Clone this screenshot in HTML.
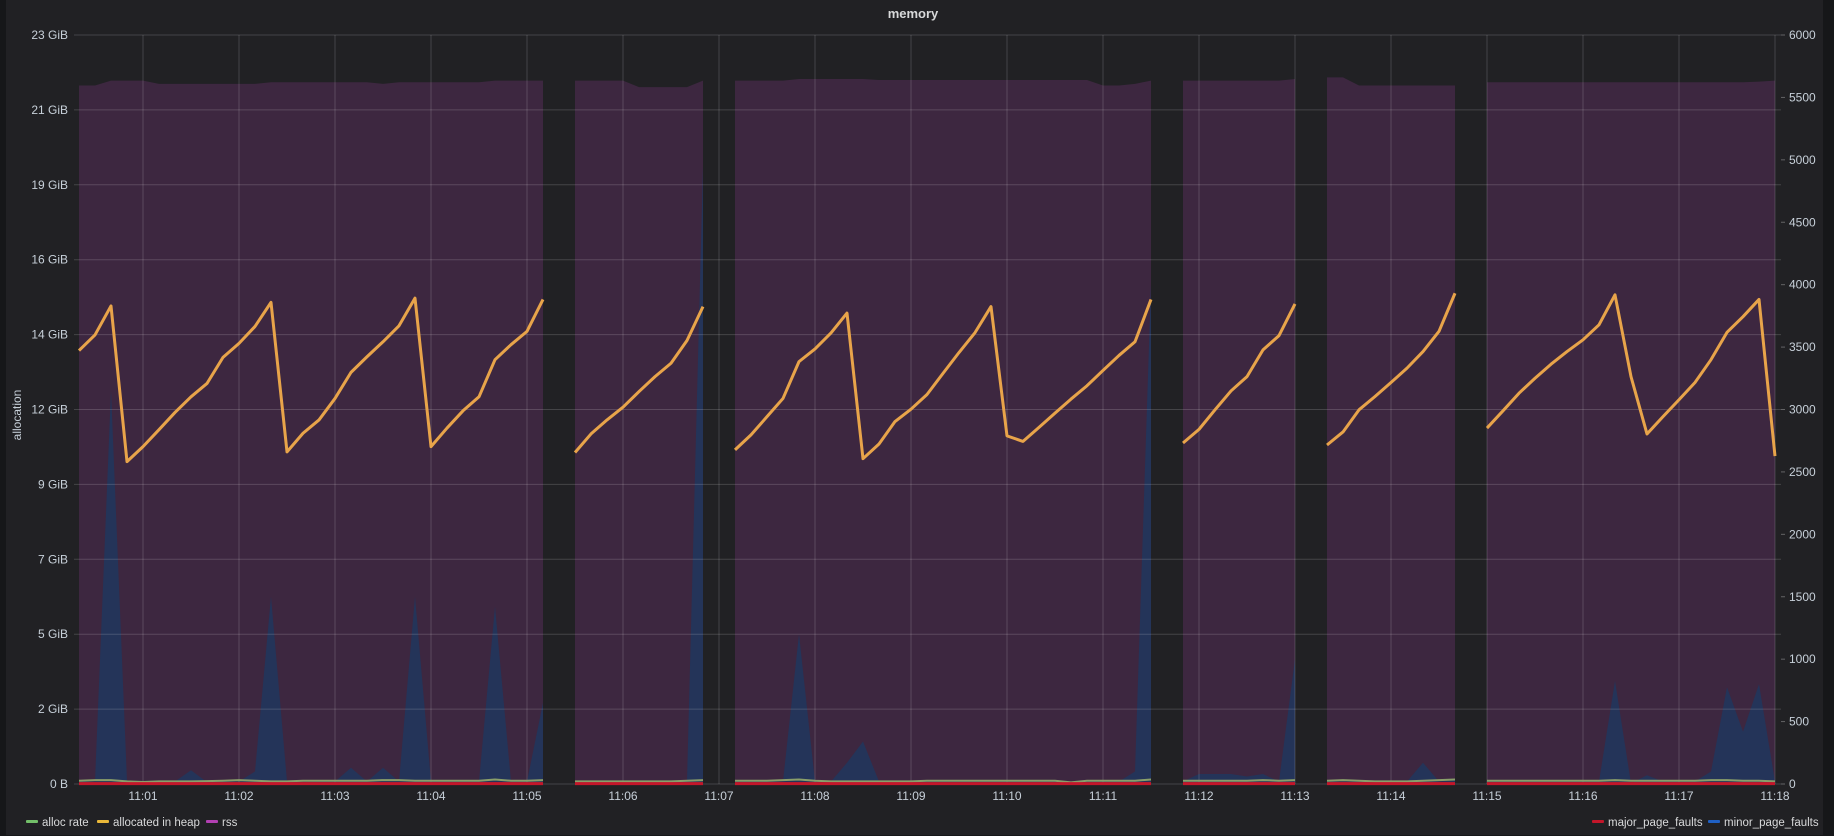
<!DOCTYPE html>
<html><head><meta charset="utf-8"><style>
html,body{margin:0;padding:0;background:#161719;}
#panel{position:absolute;left:6px;top:0;width:1817px;height:835px;background:#212124;}
svg{position:absolute;left:0;top:0;}
text{font-family:"Liberation Sans",sans-serif;}
</style></head><body>
<div id="panel"></div>
<svg id="chart" width="1834" height="836"></svg>
<script>
const times=[20,30,40,50,60,70,80,90,100,110,120,130,140,150,160,170,180,190,200,210,220,230,240,250,260,270,280,290,300,310,
330,340,350,360,370,380,390,400,410,
430,440,450,460,470,480,490,500,510,520,530,540,550,560,570,580,590,600,610,620,630,640,650,660,670,680,690,
710,720,730,740,750,760,770,780,
800,810,820,830,840,850,860,870,880,
900,910,920,930,940,950,960,970,980,990,1000,1010,1020,1030,1040,1050,1060,1070,1080];
const heapGiB=[13.31,13.79,14.68,9.90,10.36,10.88,11.41,11.89,12.30,13.10,13.53,14.05,14.79,10.20,10.77,11.18,11.84,12.64,13.12,13.58,14.07,14.92,10.36,10.93,11.46,11.89,13.03,13.49,13.90,14.88,
10.18,10.75,11.18,11.57,12.05,12.51,12.92,13.62,14.66,
10.26,10.72,11.28,11.84,12.97,13.36,13.85,14.46,9.99,10.44,11.13,11.51,11.96,12.61,13.25,13.86,14.66,10.69,10.52,10.95,11.39,11.82,12.23,12.70,13.16,13.58,14.88,
10.47,10.89,11.49,12.07,12.51,13.33,13.77,14.74,
10.41,10.81,11.49,11.90,12.33,12.77,13.28,13.90,15.07,
10.93,11.46,12.00,12.46,12.89,13.28,13.64,14.10,15.02,12.51,10.75,11.28,11.80,12.33,13.03,13.87,14.35,14.88,10.07];
const rssGiB=[21.45,21.45,21.6,21.6,21.6,21.5,21.5,21.5,21.5,21.5,21.5,21.5,21.55,21.55,21.55,21.55,21.55,21.55,21.55,21.5,21.55,21.55,21.55,21.55,21.55,21.55,21.6,21.6,21.6,21.6,
21.6,21.6,21.6,21.6,21.4,21.4,21.4,21.4,21.6,
21.6,21.6,21.6,21.6,21.65,21.65,21.65,21.65,21.65,21.62,21.62,21.62,21.62,21.62,21.62,21.62,21.62,21.62,21.62,21.62,21.62,21.62,21.62,21.45,21.45,21.5,21.6,
21.6,21.6,21.6,21.6,21.6,21.6,21.6,21.65,
21.7,21.7,21.45,21.45,21.45,21.45,21.45,21.45,21.45,
21.55,21.55,21.55,21.55,21.55,21.55,21.55,21.55,21.55,21.55,21.55,21.55,21.55,21.55,21.55,21.55,21.55,21.57,21.6];
const minorFaults=[20,20,3150,20,10,15,20,110,15,20,20,100,1500,20,15,20,20,130,20,130,20,1500,20,20,20,20,1420,20,20,650,
20,20,20,15,15,20,20,20,4950,
20,20,20,20,1200,20,20,170,340,20,20,20,20,20,20,20,20,20,20,20,20,20,20,20,20,100,4000,
20,80,80,80,60,80,20,1000,
20,20,20,20,20,20,170,20,30,
20,20,20,20,20,20,20,20,825,5,70,20,20,20,100,775,420,800,20];
const majorFaults=[3,3,3,3,3,3,3,3,3,3,3,3,3,3,3,3,3,3,3,3,3,3,3,3,3,3,3,3,3,3,
3,3,3,3,3,3,3,3,3,
3,3,3,3,3,3,3,3,3,3,3,3,3,3,3,3,3,3,3,3,3,3,3,3,3,3,3,
3,3,3,3,3,3,3,3,
3,3,3,3,3,3,3,3,3,
3,3,3,3,3,3,3,3,3,3,3,3,3,3,3,3,3,3,3];
const allocGiB=[0.1,0.12,0.12,0.08,0.06,0.08,0.08,0.08,0.09,0.1,0.12,0.1,0.08,0.08,0.1,0.1,0.1,0.1,0.1,0.12,0.12,0.1,0.1,0.1,0.1,0.1,0.14,0.1,0.1,0.12,
0.08,0.08,0.08,0.08,0.08,0.08,0.08,0.1,0.12,
0.1,0.1,0.1,0.12,0.14,0.1,0.08,0.08,0.08,0.08,0.08,0.08,0.1,0.1,0.1,0.1,0.1,0.1,0.1,0.1,0.1,0.05,0.1,0.1,0.1,0.1,0.14,
0.1,0.1,0.1,0.1,0.1,0.12,0.1,0.12,
0.1,0.12,0.1,0.08,0.08,0.08,0.1,0.12,0.14,
0.1,0.1,0.1,0.1,0.1,0.1,0.1,0.1,0.12,0.1,0.1,0.1,0.1,0.1,0.12,0.12,0.1,0.1,0.08];
const leftTickLabels=["0 B","2 GiB","5 GiB","7 GiB","9 GiB","12 GiB","14 GiB","16 GiB","19 GiB","21 GiB","23 GiB"];
const leftTickValues=[0,2.3,4.6,6.9,9.2,11.5,13.8,16.1,18.4,20.7,23];
const rightTickValues=[0,500,1000,1500,2000,2500,3000,3500,4000,4500,5000,5500,6000];
const xTickLabels=["11:01","11:02","11:03","11:04","11:05","11:06","11:07","11:08","11:09","11:10","11:11","11:12","11:13","11:14","11:15","11:16","11:17","11:18"];
const xTickSeconds=[60,120,180,240,300,360,420,480,540,600,660,720,780,840,900,960,1020,1080];

const NS="http://www.w3.org/2000/svg";
const svg=document.getElementById('chart');
const PL=74,PR=1781,PT=35,PB=784;
const xS=t=>47+t*96/60;
const yL=g=>PB-g*(PB-PT)/23;
const yR=v=>PB-v*(PB-PT)/6000;
function el(tag,attrs,parent){const e=document.createElementNS(NS,tag);for(const k in attrs)e.setAttribute(k,attrs[k]);(parent||svg).appendChild(e);return e;}
const segs=[];let cur=[0];
for(let i=1;i<times.length;i++){if(times[i]-times[i-1]>15){segs.push(cur);cur=[i];}else cur.push(i);}
segs.push(cur);
function areaPath(idx,vals,ys){let d='M'+xS(times[idx[0]])+','+PB;idx.forEach(i=>{d+=' L'+xS(times[i])+','+ys(vals[i]);});d+=' L'+xS(times[idx[idx.length-1]])+','+PB+' Z';return d;}
function linePath(idx,vals,ys){return idx.map((i,k)=>(k?'L':'M')+xS(times[i])+','+ys(vals[i])).join(' ');}
const gA=el('g',{});


segs.forEach(s=>{const p=el('path',{d:areaPath(s,rssGiB,yL),fill:'#3d2740'},gA);

});
const gB=el('g',{});


segs.forEach(s=>{const p=el('path',{d:areaPath(s,minorFaults,yR),fill:'#243459'},gB);

});
leftTickValues.forEach((v,i)=>{const y=yL(v);
const l=el('line',{x1:PL,x2:PR,y1:y,y2:y,stroke:'rgba(255,255,255,0.16)','stroke-width':1});


const t=el('text',{x:68,y:y+4,'text-anchor':'end','font-size':12,fill:'#c7d0d9'});t.textContent=leftTickLabels[i];

});
rightTickValues.forEach(v=>{const y=yR(v);
const l=el('line',{x1:PR,x2:PR+4,y1:y,y2:y,stroke:'rgba(255,255,255,0.3)'});


const t=el('text',{x:1789,y:y+4,'font-size':12,fill:'#c7d0d9'});t.textContent=String(v);

});
xTickSeconds.forEach((s,i)=>{const x=xS(s);
const l=el('line',{x1:x,x2:x,y1:PT,y2:PB,stroke:'rgba(255,255,255,0.16)'});


const t=el('text',{x:x,y:800,'text-anchor':'middle','font-size':12,fill:'#c7d0d9'});t.textContent=xTickLabels[i];

});
segs.forEach(s=>{
const a=el('path',{d:linePath(s,allocGiB,yL),fill:'none',stroke:'#8a9f6a','stroke-width':2});


const m=el('path',{d:linePath(s,majorFaults,yR),fill:'none',stroke:'#c4162a','stroke-width':3});


const h=el('path',{d:linePath(s,heapGiB,yL),fill:'none',stroke:'#e8a44a','stroke-width':3,'stroke-linejoin':'round'});

});
const tt=el('text',{x:913,y:18,'text-anchor':'middle','font-size':13,'font-weight':'bold',fill:'#d8d9da'});tt.textContent='memory';


const yt=el('text',{x:0,y:0,'text-anchor':'middle','font-size':12,fill:'#c7d0d9',transform:'translate(21,415) rotate(-90)'});yt.textContent='allocation';


const legend=[["alloc rate","#73bf69",26],["allocated in heap","#eab839",97],["rss","#b340b3",206],["major_page_faults","#c4162a",1592],["minor_page_faults","#1f60c4",1708]];
legend.forEach(([name,c,x])=>{
const g=el('g',{});


el('rect',{x:x,y:820,width:12,height:3,rx:1,fill:c},g);
const t=el('text',{x:x+16,y:826,'font-size':11.5,fill:'#d8d9da'},g);t.textContent=name;});
</script>
</body></html>
